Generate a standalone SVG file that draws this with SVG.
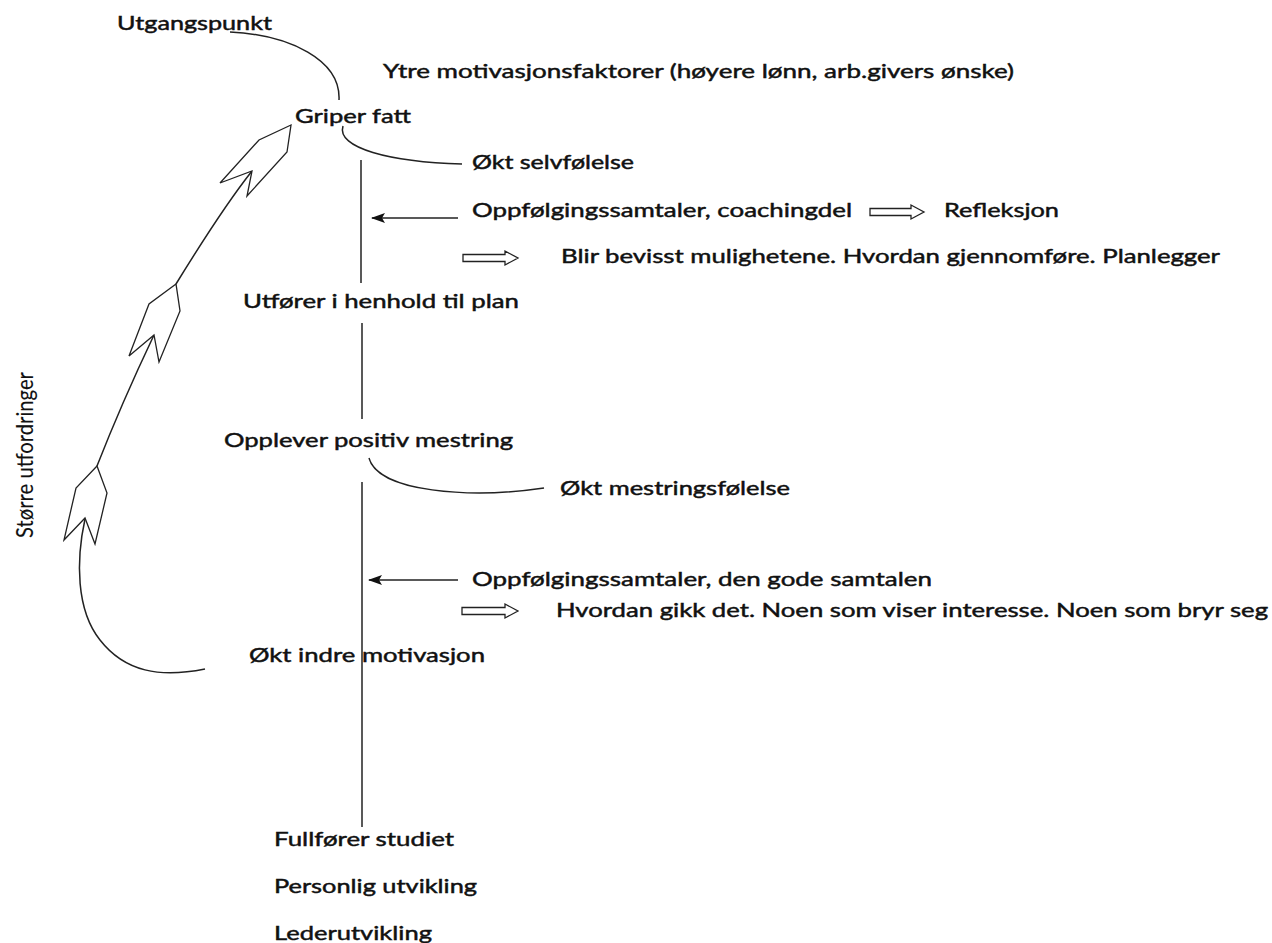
<svg xmlns="http://www.w3.org/2000/svg" width="1272" height="943" viewBox="0 0 1272 943">
<style>
text{font-family:Lato,"Liberation Sans",sans-serif;font-size:19px;fill:#111;stroke:#111;stroke-width:0.45}
.v{font-size:23px;stroke-width:0.1}
.ln{fill:none;stroke:#222;stroke-width:1.5}
.hollow{fill:#fff;stroke:#222;stroke-width:1.3;stroke-linejoin:miter}
</style>
<defs>
<marker id="ah" markerWidth="14" markerHeight="10" refX="13" refY="5" orient="auto" markerUnits="userSpaceOnUse">
<path d="M0,0 L14,5 L0,10 L3,5 Z" fill="#111"/>
</marker>
</defs>
<rect width="1272" height="943" fill="#fff"/>
<g id="connectors">
<path class="ln" d="M230,32 C290,35 341,60 339,100"/>
<path class="ln" d="M343,126 C336,148 390,162 462,164"/>
<line class="ln" x1="361" y1="160" x2="361" y2="283"/>
<line class="ln" x1="362" y1="323" x2="362" y2="419"/>
<line class="ln" x1="362" y1="482" x2="362" y2="827"/>
<path class="ln" d="M369,458 C378,492 470,499 544,488"/>
<line class="ln" x1="458" y1="218" x2="372" y2="218" marker-end="url(#ah)"/>
<line class="ln" x1="458" y1="580" x2="369" y2="580" marker-end="url(#ah)"/>
<path class="hollow" d="M870,208.5 L911,208.5 L911,205 L924,212 L911,219 L911,215.5 L870,215.5 Z"/>
<path class="hollow" d="M463,254.5 L505,254.5 L505,251 L518,258 L505,265 L505,261.5 L463,261.5 Z"/>
<path class="hollow" d="M462,607.5 L505,607.5 L505,604 L518,611 L505,618 L505,614.5 L462,614.5 Z"/>
<path class="ln" d="M85,519 C76,560 76,610 100,640 C125,672 160,678 205,669"/>
<path class="ln" d="M97,466 C115,420 135,375 154,335"/>
<path class="ln" d="M176,284 C200,245 225,205 252,171"/>
<path class="hollow" d="M97,466 L76,488 L64,540 L85,518 L95,544 L107,493 Z"/>
<path class="hollow" d="M176,284 L149,304 L129,356 L154,335 L159,362 L180,311 Z"/>
<path class="hollow" d="M291,125 L259,140 L220,183 L252,171 L247,196 L287,152 Z"/>
</g>
<g id="n-utgangspunkt"><text x="117" y="30" textLength="155" lengthAdjust="spacingAndGlyphs">Utgangspunkt</text></g>
<g id="n-ytre"><text x="383" y="78" textLength="631" lengthAdjust="spacingAndGlyphs">Ytre motivasjonsfaktorer (høyere lønn, arb.givers ønske)</text></g>
<g id="n-griper"><text x="295" y="123" textLength="116" lengthAdjust="spacingAndGlyphs">Griper fatt</text></g>
<g id="n-selvfolelse"><text x="472" y="169" textLength="162" lengthAdjust="spacingAndGlyphs">Økt selvfølelse</text></g>
<g id="n-coaching"><text x="472" y="217" textLength="380" lengthAdjust="spacingAndGlyphs">Oppfølgingssamtaler, coachingdel</text></g>
<g id="n-refleksjon"><text x="944" y="217" textLength="115" lengthAdjust="spacingAndGlyphs">Refleksjon</text></g>
<g id="n-blir"><text x="561" y="263" textLength="659" lengthAdjust="spacingAndGlyphs">Blir bevisst mulighetene. Hvordan gjennomføre. Planlegger</text></g>
<g id="n-utforer"><text x="243" y="308" textLength="276" lengthAdjust="spacingAndGlyphs">Utfører i henhold til plan</text></g>
<g id="n-opplever"><text x="224" y="447" textLength="289" lengthAdjust="spacingAndGlyphs">Opplever positiv mestring</text></g>
<g id="n-mestring"><text x="560" y="495" textLength="230" lengthAdjust="spacingAndGlyphs">Økt mestringsfølelse</text></g>
<g id="n-godesamtalen"><text x="472" y="586" textLength="460" lengthAdjust="spacingAndGlyphs">Oppfølgingssamtaler, den gode samtalen</text></g>
<g id="n-hvordan"><text x="556" y="617" textLength="712" lengthAdjust="spacingAndGlyphs">Hvordan gikk det. Noen som viser interesse. Noen som bryr seg</text></g>
<g id="n-indre"><text x="249" y="662" textLength="236" lengthAdjust="spacingAndGlyphs">Økt indre motivasjon</text></g>
<g id="n-fullforer"><text x="274" y="846" textLength="180" lengthAdjust="spacingAndGlyphs">Fullfører studiet</text></g>
<g id="n-personlig"><text x="274" y="893" textLength="203" lengthAdjust="spacingAndGlyphs">Personlig utvikling</text></g>
<g id="n-leder"><text x="274" y="940" textLength="158" lengthAdjust="spacingAndGlyphs">Lederutvikling</text></g>
<g id="n-storre"><text class="v" transform="translate(33,538) rotate(-90)" x="0" y="0" textLength="166" lengthAdjust="spacingAndGlyphs">Større utfordringer</text></g>
</svg>
